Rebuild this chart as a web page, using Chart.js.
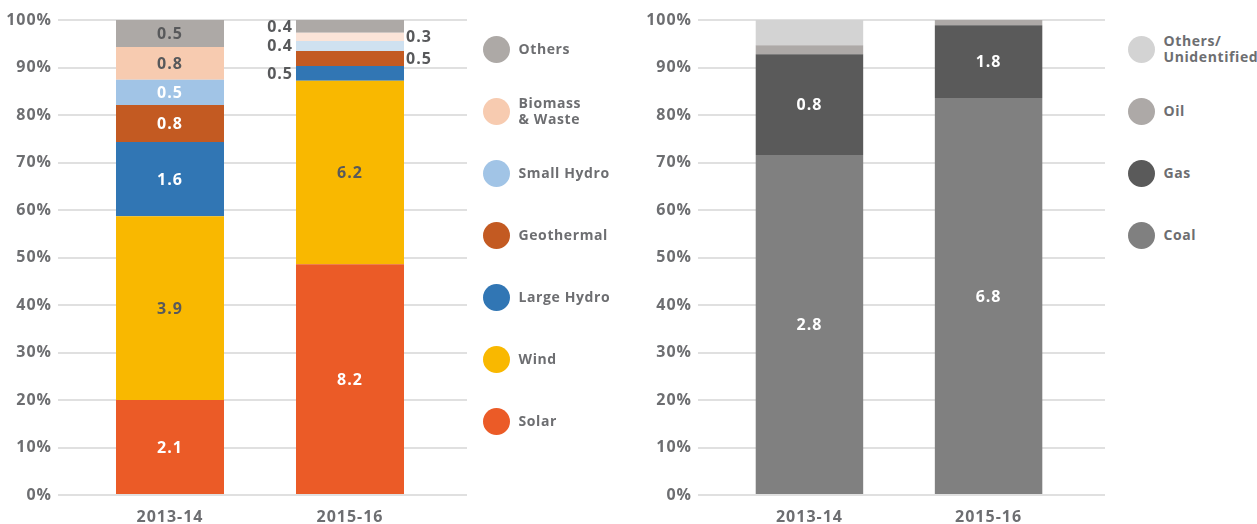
<!DOCTYPE html>
<html>
<head>
<meta charset="utf-8">
<script src="https://cdn.jsdelivr.net/npm/chart.js@4.4.1/dist/chart.umd.min.js"></script>
<style>
	body { margin: 0; background: #fff; width: 1257px; height: 524px; overflow: hidden; font-family: "Open Sans", sans-serif; }
	.box { position: absolute; top: 0; width: 480px; height: 524px; }
	#leftBox { left: 0; }
	#rightBox { left: 640px; }
	.legend-item { position: absolute; width: 200px; height: 27px; }
	.legend-dot { position: absolute; left: 0; top: 0; width: 27px; height: 27px; border-radius: 50%; }
	.legend-text { position: absolute; left: 36px; top: 50%; transform: translateY(-50%); font-weight: 700; font-size: 14px; line-height: 16px; letter-spacing: 0.6px; color: #6d6e71; white-space: nowrap; }
</style>
</head>
<body>
<div class="box" id="leftBox"><canvas id="renewChart"></canvas></div>
<div class="box" id="rightBox"><canvas id="fossilChart"></canvas></div>
<div id="legends"></div>
<script>
// categories
const years = ['2013-14', '2015-16'];

// renewables: share of the bar (%), bottom to top
const solarShare = [20.0, 48.6];
const windShare = [38.7, 38.6];
const largeHydroShare = [15.6, 3.1];
const geothermalShare = [7.8, 3.2];
const smallHydroShare = [5.3, 2.1];
const biomassShare = [6.9, 1.7];
const othersShare = [5.7, 2.7];

// renewables: printed values
const solarValue = [2.1, 8.2];
const windValue = [3.9, 6.2];
const largeHydroValue = [1.6, 0.5];
const geothermalValue = [0.8, 0.5];
const smallHydroValue = [0.5, 0.4];
const biomassValue = [0.8, 0.3];
const othersValue = [0.5, 0.4];

// fossil: share of the bar (%)
const coalShare = [71.6, 83.6];
const gasShare = [21.2, 15.3];
const oilShare = [1.9, 1.1];
const unidentifiedShare = [5.3, 0];

// fossil: printed values
const coalValue = [2.8, 6.8];
const gasValue = [0.8, 1.8];
const oilValue = [null, null];
const unidentifiedValue = [null, null];

// y ticks
const yTicks = [0, 10, 20, 30, 40, 50, 60, 70, 80, 90, 100];

const GREY_TEXT = '#6d6e71';
const DARK = '#58595b';
const WHITE = '#ffffff';

const renewSeries = [
	{ name: ['Solar'], share: solarShare, value: solarValue, color: ['#eb5b27', '#eb5b27'], text: [WHITE, WHITE], place: ['in', 'in'] },
	{ name: ['Wind'], share: windShare, value: windValue, color: ['#f9b800', '#f9b800'], text: [DARK, DARK], place: ['in', 'in'] },
	{ name: ['Large Hydro'], share: largeHydroShare, value: largeHydroValue, color: ['#3176b4', '#3176b4'], text: [WHITE, DARK], place: ['in', 'left'] },
	{ name: ['Geothermal'], share: geothermalShare, value: geothermalValue, color: ['#c35a22', '#c35a22'], text: [WHITE, DARK], place: ['in', 'right'] },
	{ name: ['Small Hydro'], share: smallHydroShare, value: smallHydroValue, color: ['#a1c4e6', '#cfe1f0'], text: [WHITE, DARK], place: ['in', 'left'] },
	{ name: ['Biomass', '& Waste'], share: biomassShare, value: biomassValue, color: ['#f7cbb0', '#fbe4d8'], text: [DARK, DARK], place: ['in', 'right'] },
	{ name: ['Others'], share: othersShare, value: othersValue, color: ['#ada9a6', '#ada9a6'], text: [DARK, DARK], place: ['in', 'left'] }
];

const fossilSeries = [
	{ name: ['Coal'], share: coalShare, value: coalValue, color: ['#808080', '#808080'], text: [WHITE, WHITE], place: ['in', 'in'] },
	{ name: ['Gas'], share: gasShare, value: gasValue, color: ['#5a5a5a', '#5a5a5a'], text: [WHITE, WHITE], place: ['in', 'in'] },
	{ name: ['Oil'], share: oilShare, value: oilValue, color: ['#ada9a7', '#ada9a7'], text: [WHITE, WHITE], place: ['in', 'in'] },
	{ name: ['Others/', 'Unidentified'], share: unidentifiedShare, value: unidentifiedValue, color: ['#d3d3d3', '#d3d3d3'], text: [WHITE, WHITE], place: ['in', 'in'] }
];

// wider lettering, closer to the original typeface
const spacing = {
	id: 'spacing',
	beforeDraw(chart) {
		chart.ctx.letterSpacing = '1px';
	}
};

// draws the printed values on / beside each segment
const valueLabels = {
	id: 'valueLabels',
	afterDatasetsDraw(chart) {
		const ctx = chart.ctx;
		ctx.save();
		ctx.font = '700 16px "Open Sans"';
		ctx.textBaseline = 'middle';
		chart.data.datasets.forEach((ds, i) => {
			const meta = chart.getDatasetMeta(i);
			meta.data.forEach((bar, j) => {
				const v = ds.printed[j];
				if (v === null || v === undefined) return;
				const p = bar.getProps(['x', 'y', 'base', 'width'], true);
				const cy = (p.y + p.base) / 2;
				let cx = p.x;
				ctx.textAlign = 'center';
				if (ds.place[j] === 'left') {
					cx = p.x - p.width / 2 - 3;
					ctx.textAlign = 'right';
				} else if (ds.place[j] === 'right') {
					cx = p.x + p.width / 2 + 2;
					ctx.textAlign = 'left';
				}
				ctx.fillStyle = ds.textColor[j];
				ctx.fillText(v.toFixed(1), cx, cy + 1);
			});
		});
		ctx.restore();
	}
};

function makeChart(canvasId, series, padRight) {
	const ctx = document.getElementById(canvasId).getContext('2d');
	return new Chart(ctx, {
		type: 'bar',
		data: {
			datasets: series.map(s => ({
				label: s.name.join(' '),
				data: s.share.map((v, k) => ({ x: k, y: v })),
				backgroundColor: s.color,
				borderWidth: 0,
				printed: s.value,
				textColor: s.text,
				place: s.place,
				barPercentage: 0.6,
				categoryPercentage: 1
			}))
		},
		options: {
			responsive: false,
			animation: false,
			events: [],
			layout: { padding: { top: 20, right: padRight, bottom: 0, left: 0 } },
			scales: {
				x: {
					type: 'linear',
					stacked: true,
					offset: false,
					min: -0.6222,
					max: 1.65,
					afterBuildTicks: axis => { axis.ticks = years.map((y, k) => ({ value: k })); },
					afterFit: axis => { axis.height = 29; },
					grid: { display: false, drawTicks: false, offset: false },
					border: { display: false },
					ticks: {
						callback: (v) => years[v],
						font: { family: '"Open Sans"', size: 16, weight: '700' },
						color: GREY_TEXT,
						padding: 13,
						maxRotation: 0
					}
				},
				y: {
					stacked: true,
					min: 0,
					max: 100,
					afterBuildTicks: axis => { axis.ticks = yTicks.map(t => ({ value: t })); },
					afterFit: axis => { axis.width = 58; },
					grid: { color: '#e0e0e0', lineWidth: 2, drawTicks: false },
					border: { display: false },
					ticks: {
						callback: v => v + '%',
						font: { family: '"Open Sans"', size: 16, weight: '700' },
						color: GREY_TEXT,
						padding: 6
					}
				}
			},
			plugins: {
				legend: { display: false },
				tooltip: { enabled: false }
			}
		},
		plugins: [spacing, valueLabels]
	});
}

function makeLegend(series, cx, firstY) {
	const holder = document.getElementById('legends');
	series.slice().reverse().forEach((s, i) => {
		const item = document.createElement('div');
		item.className = 'legend-item';
		item.style.left = (cx - 13.5) + 'px';
		item.style.top = (firstY + i * 62 - 13.5) + 'px';
		const dot = document.createElement('div');
		dot.className = 'legend-dot';
		dot.style.background = s.color[0];
		const txt = document.createElement('div');
		txt.className = 'legend-text';
		txt.innerHTML = s.name.join('<br>');
		item.appendChild(dot);
		item.appendChild(txt);
		holder.appendChild(item);
	});
}

function setSize(id) {
	const c = document.getElementById(id);
	c.width = 480;
	c.height = 524;
	c.style.width = '480px';
	c.style.height = '524px';
}

setSize('renewChart');
setSize('fossilChart');
makeChart('renewChart', renewSeries, 13);
makeChart('fossilChart', fossilSeries, 15);
makeLegend(renewSeries, 496, 49);
makeLegend(fossilSeries, 1141, 49);
</script>
</body>
</html>
